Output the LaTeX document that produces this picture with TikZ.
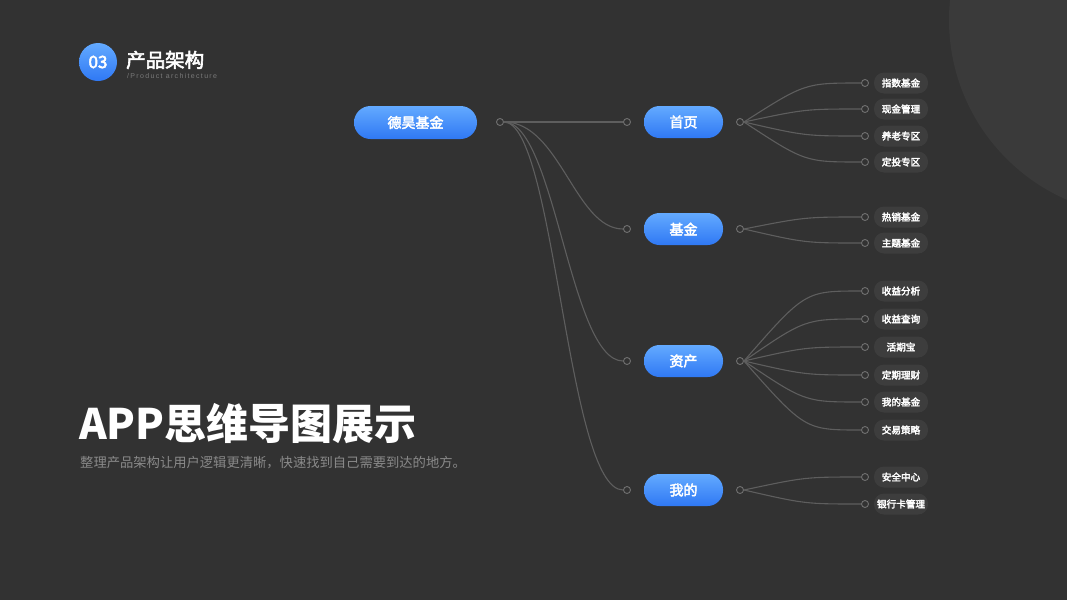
\documentclass[tikz,border=0pt]{standalone}
\usepackage{fontspec}
\setmainfont{Noto Sans CJK SC}
\newfontfamily\cjkmed[FakeBold=3]{Noto Sans CJK SC}
\newfontfamily\latinfont[LetterSpace=19]{Liberation Sans}
\definecolor{bg}{HTML}{323232}
\definecolor{bigcirc}{HTML}{3A3A3A}
\definecolor{btop}{HTML}{63AAFF}
\definecolor{bbot}{HTML}{2F78F4}
\definecolor{linkc}{HTML}{5E5E5E}
\definecolor{portc}{HTML}{707070}
\definecolor{leaffill}{HTML}{3D3D3D}
\definecolor{subgray}{HTML}{8A8A8A}
\definecolor{tinygray}{HTML}{7A7A7A}
\tikzset{
  pill/.style={rounded corners=15.5pt, top color=btop, bottom color=bbot, draw=none,
    text=white, font=\cjkmed\fontsize{14}{16}\selectfont, inner sep=0pt, minimum height=32pt},
  rootpill/.style={pill, minimum width=123pt, minimum height=33pt, rounded corners=16.5pt},
  midpill/.style={pill, minimum width=79pt},
  leafpill/.style={rounded corners=10pt, fill=leaffill, text=white, inner sep=0pt,
    minimum width=54pt, minimum height=21pt, font=\cjkmed\fontsize{9.6}{11}\selectfont},
  port/.style={circle, draw=portc, line width=0.9pt, fill=bg, minimum size=7pt, inner sep=0pt},
  link/.style={draw=linkc, line width=1.1pt}
}
\begin{document}
\begin{tikzpicture}[x=1pt,y=-1pt]
\useasboundingbox (0,0) rectangle (1067,600);
\fill[bg] (0,0) rectangle (1067,600);
\begin{scope}
\clip (0,0) rectangle (1067,600);
\fill[bigcirc] (1145,20) circle (196);
\end{scope}
% header
\shade[top color=btop, bottom color=bbot] (98,62) circle (19);
\node[text=white, font=\cjkmed\fontsize{17}{18}\selectfont] (badge) at (98,62) {03};
\node[anchor=west, text=white, font=\cjkmed\fontsize{19.5}{21}\selectfont, inner sep=0] (title) at (126,60) {产品架构};
\node[anchor=west, text=tinygray, font=\latinfont\fontsize{7}{8}\selectfont, inner sep=0] (subtitle) at (127,76) {/Product architecture};
% headline
\node[anchor=west, text=white, font=\fontsize{42}{46}\selectfont\bfseries, inner sep=0] (headline) at (79,424) {APP思维导图展示};
\node[anchor=west, text=subgray, font=\fontsize{13.3}{15}\selectfont, inner sep=0] (desc) at (80,463) {整理产品架构让用户逻辑更清晰，快速找到自己需要到达的地方。};
% root
\node[rootpill] (root) at (415.5,122.5) {德昊基金};
\node[port] (rp) at (500,122) {};
% level 2
\foreach \n/\y/\t in {a/122/首页, b/229/基金, c/361/资产, d/490/我的}{
  \node[port] (in\n) at (627,\y) {};
  \node[midpill] (m\n) at (683.5,\y) {\t};
  \node[port] (out\n) at (740,\y) {};
}
\draw[link] (rp.east) -- (ina.west);
\draw[link] (rp.east) .. controls (560,122) and (575,229) .. (inb.west);
\draw[link] (rp.east) .. controls (555,122) and (570,361) .. (inc.west);
\draw[link] (rp.east) .. controls (555,122) and (567,490) .. (ind.west);
% leaves
\foreach \k/\p/\y/\t in {a1/a/83/指数基金, a2/a/109/现金管理, a3/a/136/养老专区, a4/a/162/定投专区,
  b1/b/217/热销基金, b2/b/243/主题基金,
  c1/c/291/收益分析, c2/c/319/收益查询, c3/c/347/活期宝, c4/c/375/定期理财, c5/c/402/我的基金, c6/c/430/交易策略,
  d1/d/477/安全中心, d2/d/504/银行卡管理}{
  \node[leafpill] (l\k) at (901,\y) {\t};
  \node[port] (lp\k) at (865,\y) {};
  \draw[link] (out\p.east) .. controls (805,\y-0) and (805,\y) .. (lp\k.west);
}
\end{tikzpicture}
\end{document}
